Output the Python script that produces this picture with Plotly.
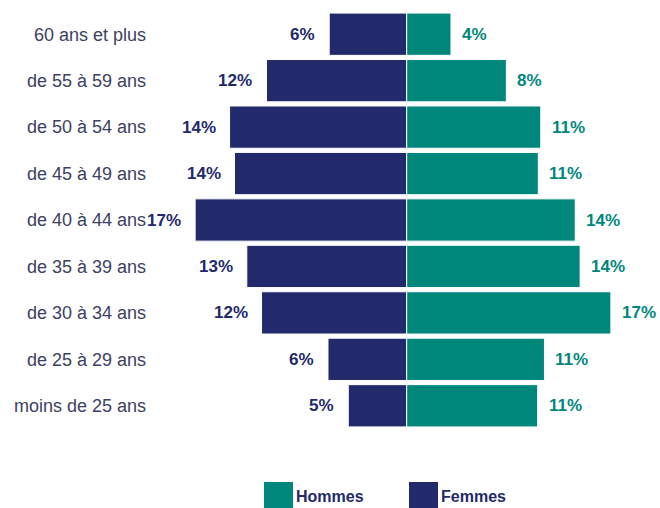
import plotly.graph_objects as go

categories = ["60 ans et plus", "de 55 à 59 ans", "de 50 à 54 ans", "de 45 à 49 ans",
              "de 40 à 44 ans", "de 35 à 39 ans", "de 30 à 34 ans", "de 25 à 29 ans",
              "moins de 25 ans"]
femmes = [6.3, 11.4, 14.4, 14.0, 17.2, 13.0, 11.8, 6.4, 4.75]
hommes = [3.6, 8.1, 10.9, 10.7, 13.7, 14.1, 16.6, 11.2, 10.65]
femmes_labels = ["6%", "12%", "14%", "14%", "17%", "13%", "12%", "6%", "5%"]
hommes_labels = ["4%", "8%", "11%", "11%", "14%", "14%", "17%", "11%", "11%"]

NAVY = "#222a6b"
TEAL = "#00877b"
LABEL_GRAY = "#3c4163"
FONT = "Arial, Liberation Sans, sans-serif"

W, H = 660, 508
ML, MR, MT, MB = 150, 0, 11, 79
PW = W - ML - MR
PH = H - MT - MB
K = 12.3  # px per percent
CENTER_PX = 406.7
XMIN = -(CENTER_PX - ML) / K
XMAX = (W - MR - CENTER_PX) / K

fig = go.Figure()
fig.add_trace(go.Bar(
    y=categories, x=[-v for v in femmes], orientation="h", name="Femmes",
    marker=dict(color=NAVY, line=dict(color="white", width=1)),
    showlegend=False, hoverinfo="skip"))
fig.add_trace(go.Bar(
    y=categories, x=hommes, orientation="h", name="Hommes",
    marker=dict(color=TEAL, line=dict(color="white", width=1)),
    showlegend=False, hoverinfo="skip"))

annotations = []
for cat, v, t in zip(categories, femmes, femmes_labels):
    annotations.append(dict(x=-v, y=cat, xref="x", yref="y", text=f"<b>{t}</b>",
                            showarrow=False, xanchor="right", yanchor="middle",
                            xshift=-12, font=dict(family=FONT, size=17, color=NAVY)))
for cat, v, t in zip(categories, hommes, hommes_labels):
    annotations.append(dict(x=v, y=cat, xref="x", yref="y", text=f"<b>{t}</b>",
                            showarrow=False, xanchor="left", yanchor="middle",
                            xshift=9, font=dict(family=FONT, size=17, color=TEAL)))


def px_x(p):
    return (p - ML) / PW


def px_y(p):
    return (H - MB - p) / PH


shapes = []
legend_items = [("Hommes", TEAL, 264), ("Femmes", NAVY, 409)]
for name, col, x0 in legend_items:
    shapes.append(dict(type="rect", xref="paper", yref="paper",
                       x0=px_x(x0), x1=px_x(x0 + 29), y0=px_y(508), y1=px_y(482),
                       fillcolor=col, line=dict(width=0)))
    annotations.append(dict(x=px_x(x0 + 30), y=px_y(496), xref="paper", yref="paper",
                            text=f"<b>{name}</b>", showarrow=False, xanchor="left",
                            yanchor="middle",
                            font=dict(family=FONT, size=16, color=NAVY)))

fig.update_layout(
    width=W, height=H,
    margin=dict(l=ML, r=MR, t=MT, b=MB, pad=0),
    plot_bgcolor="white", paper_bgcolor="white",
    barmode="relative", bargap=0.09,
    xaxis=dict(range=[XMIN, XMAX], visible=False, showgrid=False, zeroline=False, fixedrange=True),
    yaxis=dict(autorange="reversed", showgrid=False, zeroline=False, showline=False,
               ticks="", ticklabelstandoff=3,
               tickfont=dict(family=FONT, size=18, color=LABEL_GRAY), fixedrange=True),
    annotations=annotations, shapes=shapes,
)

fig.write_html("out.html", config={"displayModeBar": False},
               post_script="document.body.style.margin='0px';document.body.style.overflow='hidden';")
